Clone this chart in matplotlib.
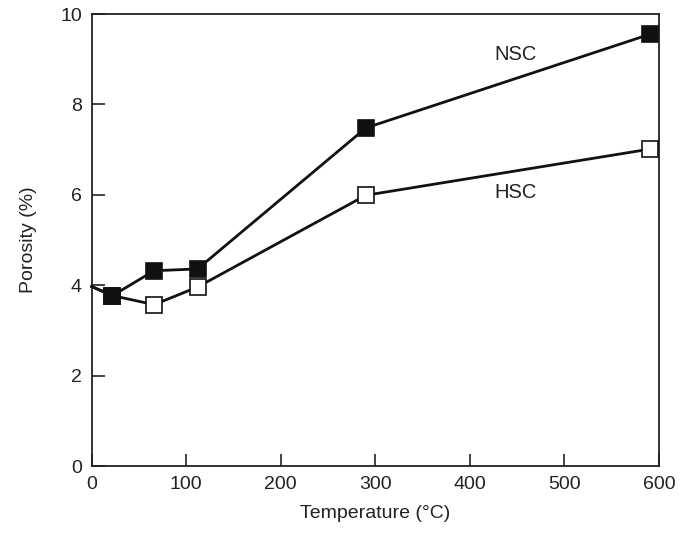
import matplotlib.pyplot as plt

plt.rcParams['font.family'] = ['Liberation Sans', 'DejaVu Sans']

# porosity after heating, normal- and high-strength concrete
temps = [0, 22, 66, 112, 290, 590]
nsc = [3.97, 3.77, 4.32, 4.36, 7.48, 9.55]
hsc = [3.97, 3.77, 3.57, 3.96, 5.99, 7.01]

fig = plt.figure(figsize=(6.91, 5.37), dpi=100)
ax = fig.add_axes([0.1327, 0.1322, 0.821, 0.8417])

ax.plot(temps, hsc, '-', color='#111111', lw=2, marker='s', ms=11.5,
        mfc='white', mec='#111111', mew=1.2, markevery=list(range(1, len(temps))),
        clip_on=False, zorder=3)
ax.plot(temps, nsc, '-', color='#111111', lw=2, marker='s', ms=11.5,
        mfc='#111111', mec='#111111', mew=1.2, markevery=list(range(1, len(temps))),
        clip_on=False, zorder=4)

ax.text(448, 9.1, "NSC", fontsize=14.5, ha='center', va='center', color='#222222')
ax.text(448, 6.05, "HSC", fontsize=14.5, ha='center', va='center', color='#222222')

ax.set_xlim(0, 600)
ax.set_ylim(0, 10)
ax.set_xticks([0, 100, 200, 300, 400, 500, 600])
ax.set_yticks([0, 2, 4, 6, 8, 10])
ax.tick_params(direction='in', length=9, width=1.2, labelsize=14, pad=7,
               colors='#222222')
for s in ax.spines.values():
    s.set_linewidth(1.3)
    s.set_color('#222222')

ax.set_xlabel("Temperature (\u00b0C)", fontsize=14, labelpad=9, color='#222222')
ax.set_ylabel("Porosity (%)", fontsize=14, labelpad=17, color='#222222')

fig.savefig("out.png", dpi=100)
